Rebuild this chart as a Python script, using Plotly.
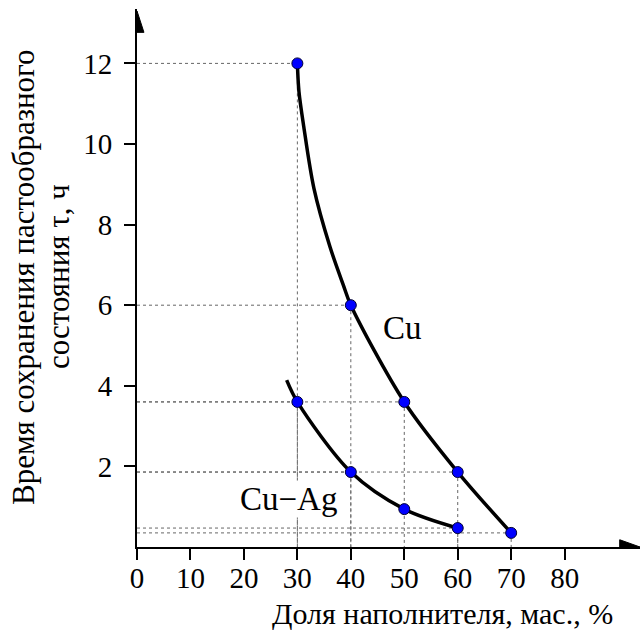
import plotly.graph_objects as go

# --- data ---
cu_x = [30, 40, 50, 60, 70]
cu_y = [12, 6, 3.6, 1.86, 0.35]
cuag_x = [30, 40, 50, 60]
cuag_y = [3.6, 1.86, 0.94, 0.47]

# smooth fitted curves as drawn in the figure
cu_curve_x = [30, 30.3, 31.2, 33.1, 36.1, 38.6, 40, 50, 60, 70]
cu_curve_y = [12, 11.3, 10.43, 8.9, 7.45, 6.5, 6, 3.6, 1.86, 0.35]
cuag_curve_x = [28.0, 30, 40, 50, 60]
cuag_curve_y = [4.14, 3.6, 1.86, 0.94, 0.47]

# which points carry dotted guide lines to the axes
cu_guides = [True, True, True, True, True]
cuag_guides = [True, True, False, True]

x_ticks = [0, 10, 20, 30, 40, 50, 60, 70, 80]
y_ticks = [2, 4, 6, 8, 10, 12]

x_title = "Доля наполнителя, мас., %"
y_title_lines = ["Время сохранения пастообразного", "состояния τ, ч"]

FONT = "Liberation Serif"

fig = go.Figure()

# guide lines
gx, gy = [], []
for xs, ys, flags in ((cu_x, cu_y, cu_guides), (cuag_x, cuag_y, cuag_guides)):
    for x, y, f in zip(xs, ys, flags):
        if f:
            gx += [0, x, None, x, x, None]
            gy += [y, y, None, y, 0, None]
fig.add_trace(go.Scatter(x=gx, y=gy, mode="lines",
                         line=dict(color="#666666", width=1, dash="dot"),
                         hoverinfo="skip", showlegend=False))

# curves
for cx, cy in ((cu_curve_x, cu_curve_y), (cuag_curve_x, cuag_curve_y)):
    fig.add_trace(go.Scatter(x=cx, y=cy, mode="lines",
                             line=dict(color="black", width=3.5, shape="spline", smoothing=0.9),
                             showlegend=False))

# markers
for xs, ys in ((cu_x, cu_y), (cuag_x, cuag_y)):
    fig.add_trace(go.Scatter(x=xs, y=ys, mode="markers",
                             marker=dict(color="#0000ff", size=11,
                                         line=dict(color="#000033", width=1)),
                             showlegend=False))

XMAX = 94.1
YMAX = 13.35

fig.update_xaxes(range=[0, XMAX], showgrid=False, zeroline=False,
                 showline=True, linecolor="black", linewidth=2,
                 ticks="outside", ticklen=11, tickwidth=2, tickcolor="black",
                 tickvals=x_ticks, ticktext=[str(v) for v in x_ticks],
                 ticklabelstandoff=-7,
                 tickfont=dict(family=FONT, size=29, color="black"))
fig.update_yaxes(range=[0, YMAX], showgrid=False, zeroline=False,
                 showline=True, linecolor="black", linewidth=2,
                 ticks="outside", ticklen=11, tickwidth=2, tickcolor="black",
                 tickvals=y_ticks, ticktext=[str(v) for v in y_ticks],
                 ticklabelstandoff=6,
                 tickfont=dict(family=FONT, size=29, color="black"))

# arrow heads (axis decorations)
fig.add_shape(type="path", xref="x", yref="y",
              path=f"M {XMAX} 0 L {XMAX-3.8} 0.18 L {XMAX-3.8} -0.18 Z",
              fillcolor="black", line=dict(color="black", width=1))
fig.add_shape(type="path", xref="x", yref="y",
              path=f"M 0 {YMAX-0.05} L 1.3 {YMAX-0.58} L -1.3 {YMAX-0.58} Z",
              fillcolor="black", line=dict(color="black", width=1))

# series labels
fig.add_annotation(x=49.7, y=5.43, text="Cu", showarrow=False,
                   font=dict(family=FONT, size=33, color="black"))
fig.add_annotation(x=28.3, y=1.19, text="Cu\u2212Ag", showarrow=False,
                   bgcolor="white", borderpad=0,
                   font=dict(family=FONT, size=33, color="black"))

# axis titles
fig.add_annotation(xref="paper", yref="paper", x=0.6074, y=-0.1245,
                   xanchor="center", yanchor="middle",
                   text=x_title, showarrow=False,
                   font=dict(family=FONT, size=30, color="black"))
for xp, line in zip([-0.2247, -0.155], y_title_lines):
    fig.add_annotation(xref="paper", yref="paper", x=xp, y=0.5019,
                       xanchor="center", yanchor="middle",
                       text=line, textangle=-90, showarrow=False,
                       font=dict(family=FONT, size=31, color="black"))

fig.update_layout(width=640, height=630, template="none",
                  font=dict(family=FONT, size=29, color="black"),
                  margin=dict(l=137, r=0, t=9, b=83),
                  plot_bgcolor="white", paper_bgcolor="white")

fig.write_html("out.html")
